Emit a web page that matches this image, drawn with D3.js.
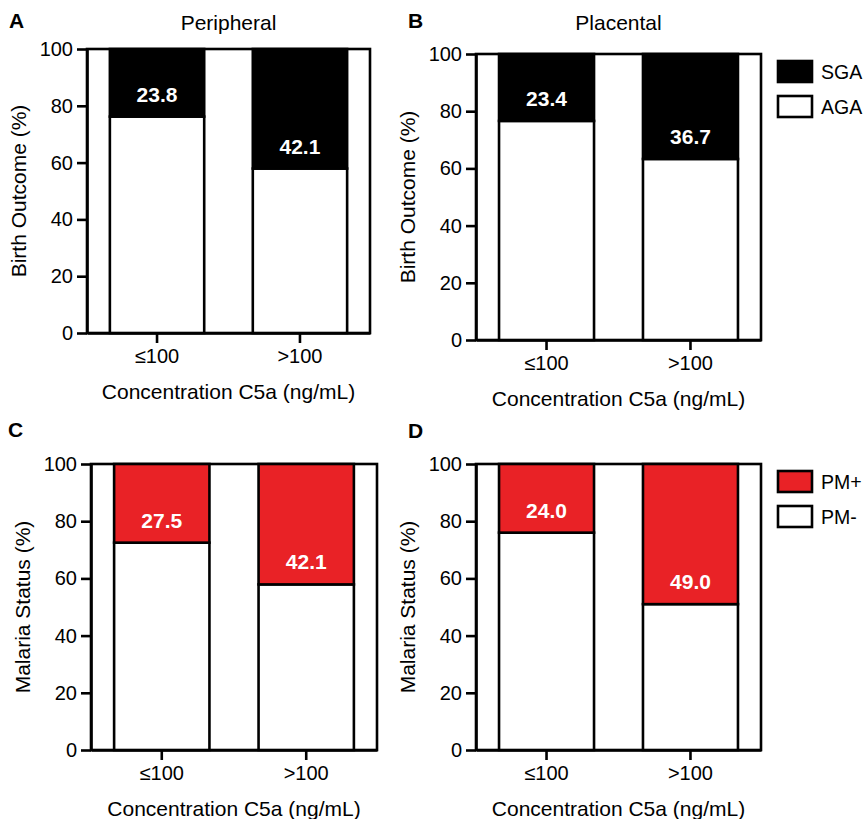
<!DOCTYPE html>
<html>
<head>
<meta charset="utf-8">
<script src="https://cdn.jsdelivr.net/npm/d3@7"></script>
<style>
  body { margin: 0; background: #fff; }
  svg text { font-family: "Liberation Sans", Arial, Helvetica, sans-serif; fill: #000; }
</style>
</head>
<body>
<div class="vis-c5a"></div>
<script>
// chart values
const categories = ['\u2264100', '>100'];
const panelLetters = ['A', 'B', 'C', 'D'];
const panelTitles = ['Peripheral', 'Placental', '', ''];
const yTitles = ['Birth Outcome (%)', 'Birth Outcome (%)', 'Malaria Status (%)', 'Malaria Status (%)'];
const xTitle = 'Concentration C5a (ng/mL)';
const yTicks = [0, 20, 40, 60, 80, 100];

// top segment (SGA / PM+) and bottom segment (AGA / PM-) per panel
const sgaPeripheral = [23.8, 42.1];
const agaPeripheral = [76.2, 57.9];
const sgaPlacental = [23.4, 36.7];
const agaPlacental = [76.6, 63.3];
const pmPosPeripheral = [27.5, 42.1];
const pmNegPeripheral = [72.5, 57.9];
const pmPosPlacental = [24.0, 49.0];
const pmNegPlacental = [76.0, 51.0];

const legendBirth = ['SGA', 'AGA'];
const legendMalaria = ['PM+', 'PM-'];

const black = '#000000';
const red = '#e92226';

const panels = [
  { top: sgaPeripheral, bottom: agaPeripheral, color: black, legend: null,
    box: { left: 87, right: 370, top: 49, bottom: 333 }, letterX: 9, letterY: 28, titleY: 30 },
  { top: sgaPlacental, bottom: agaPlacental, color: black, legend: legendBirth,
    box: { left: 476, right: 761, top: 54, bottom: 340 }, letterX: 408, letterY: 28, titleY: 30 },
  { top: pmPosPeripheral, bottom: pmNegPeripheral, color: red, legend: null,
    box: { left: 91, right: 377, top: 464, bottom: 750 }, letterX: 8, letterY: 437, titleY: 0 },
  { top: pmPosPlacental, bottom: pmNegPlacental, color: red, legend: legendMalaria,
    box: { left: 476, right: 761, top: 464, bottom: 750 }, letterX: 408, letterY: 438, titleY: 0 }
];

const svg = d3.select('.vis-c5a')
  .append('svg')
  .attr('width', 866)
  .attr('height', 819);

const lw = 2.6;

panels.forEach((p, i) => {
  const b = p.box;
  const g = svg.append('g');

  const x = d3.scaleBand()
    .domain(categories)
    .range([b.left, b.right])
    .paddingInner(0.34)
    .paddingOuter(0.16);
  const y = d3.scaleLinear()
    .domain([0, 100])
    .range([b.bottom, b.top]);

  // plot frame
  g.append('rect')
    .attr('x', b.left)
    .attr('y', b.top)
    .attr('width', b.right - b.left)
    .attr('height', b.bottom - b.top)
    .attr('fill', '#fff')
    .attr('stroke', black)
    .attr('stroke-width', lw);

  // bottom (white) segments
  g.selectAll('.seg-low')
    .data(categories)
    .enter()
    .append('rect')
    .attr('x', (d) => x(d))
    .attr('width', x.bandwidth())
    .attr('y', (d, j) => y(p.bottom[j]))
    .attr('height', (d, j) => y(0) - y(p.bottom[j]))
    .attr('fill', '#fff')
    .attr('stroke', black)
    .attr('stroke-width', lw);

  // top (filled) segments
  g.selectAll('.seg-high')
    .data(categories)
    .enter()
    .append('rect')
    .attr('x', (d) => x(d))
    .attr('width', x.bandwidth())
    .attr('y', (d, j) => y(p.bottom[j] + p.top[j]))
    .attr('height', (d, j) => y(p.bottom[j]) - y(p.bottom[j] + p.top[j]))
    .attr('fill', p.color)
    .attr('stroke', black)
    .attr('stroke-width', lw);

  // value labels, just above the boundary
  g.selectAll('.val')
    .data(categories)
    .enter()
    .append('text')
    .attr('x', (d) => x(d) + x.bandwidth() / 2)
    .attr('y', (d, j) => y(p.bottom[j]) - 15)
    .attr('text-anchor', 'middle')
    .style('font-size', '21px')
    .style('font-weight', 'bold')
    .style('fill', '#fff')
    .text((d, j) => p.top[j].toFixed(1));

  // axes
  const yAxis = g.append('g')
    .attr('transform', `translate(${b.left},0)`)
    .call(d3.axisLeft(y).tickValues(yTicks).tickSize(10).tickSizeOuter(0).tickPadding(4));
  const xAxis = g.append('g')
    .attr('transform', `translate(0,${b.bottom})`)
    .call(d3.axisBottom(x).tickSize(10).tickSizeOuter(0).tickPadding(6));
  [yAxis, xAxis].forEach((a) => {
    a.selectAll('path, line').attr('stroke', black).attr('stroke-width', lw);
    a.selectAll('text')
      .style('font-size', '20px')
      .attr('fill', black);
  });

  // axis titles
  g.append('text')
    .attr('x', (b.left + b.right) / 2)
    .attr('y', b.bottom + 66)
    .attr('text-anchor', 'middle')
    .style('font-size', '21px')
    .text(xTitle);
  g.append('text')
    .attr('transform', 'rotate(-90)')
    .attr('x', -(b.top + b.bottom) / 2)
    .attr('y', b.left - 61)
    .attr('text-anchor', 'middle')
    .style('font-size', '21px')
    .text(yTitles[i]);

  // panel title and letter
  if (panelTitles[i]) {
    g.append('text')
      .attr('x', (b.left + b.right) / 2)
      .attr('y', p.titleY)
      .attr('text-anchor', 'middle')
      .style('font-size', '21px')
      .text(panelTitles[i]);
  }
  g.append('text')
    .attr('x', p.letterX)
    .attr('y', p.letterY)
    .style('font-size', '21px')
    .style('font-weight', 'bold')
    .text(panelLetters[i]);

  // legend
  if (p.legend) {
    const lg = g.append('g')
      .attr('transform', `translate(${b.right + 17},${b.top + 7})`);
    p.legend.forEach((name, k) => {
      lg.append('rect')
        .attr('x', 0)
        .attr('y', k * 35)
        .attr('width', 34)
        .attr('height', 21)
        .attr('fill', k === 0 ? p.color : '#fff')
        .attr('stroke', black)
        .attr('stroke-width', lw);
      lg.append('text')
        .attr('x', 43)
        .attr('y', k * 35 + 18)
        .style('font-size', '19.5px')
        .text(name);
    });
  }
});
</script>
</body>
</html>
